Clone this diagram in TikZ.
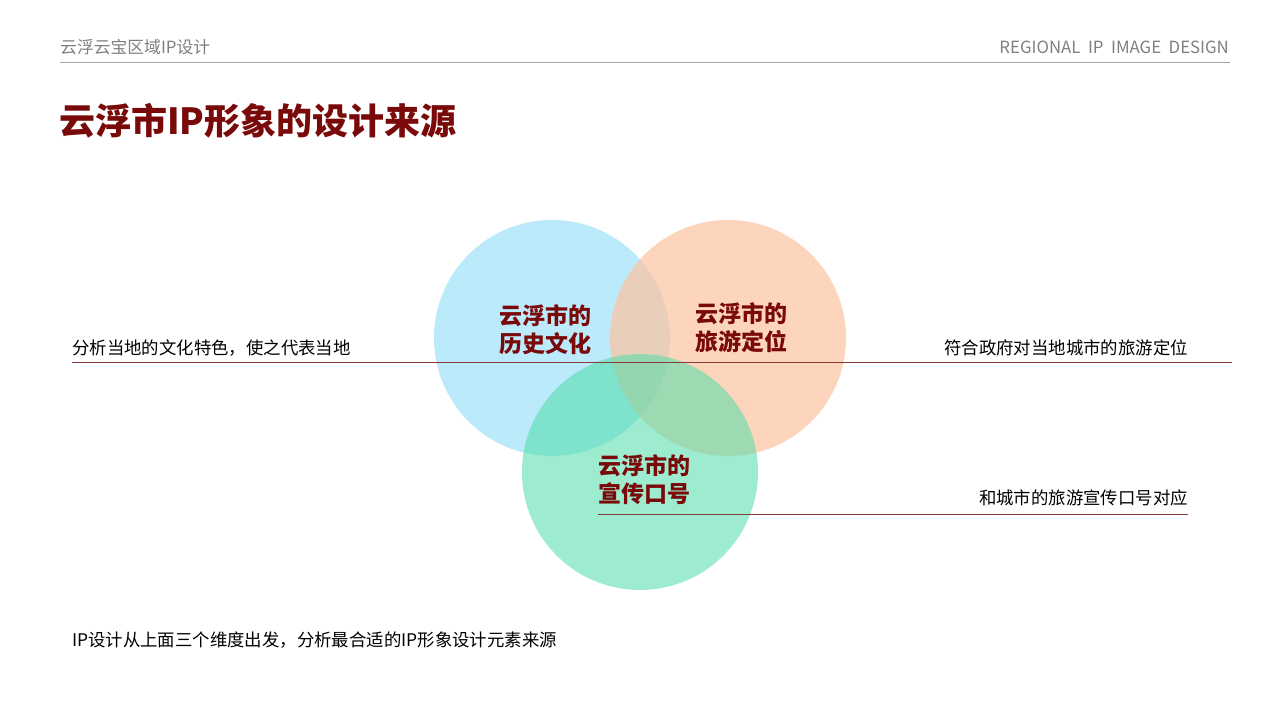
\documentclass[tikz,border=0pt]{standalone}
\usepackage{fontspec}
\setmainfont{Noto Sans CJK SC}
\definecolor{dred}{HTML}{7A0A0A}
\definecolor{lred}{HTML}{8B3A3A}
\definecolor{cblue}{HTML}{8EDDF8}
\definecolor{corange}{HTML}{FDC4A0}
\definecolor{cgreen}{HTML}{4FDDA8}
\begin{document}
\begin{tikzpicture}[x=1pt,y=-1pt,
  lab/.style={font=\fontsize{23}{28}\selectfont\bfseries,text=dred,align=center,inner sep=0},
  note/.style={font=\fontsize{17.4}{20}\selectfont,inner sep=0}]
\useasboundingbox[fill=white] (0,0) rectangle (1280,720);
\node[anchor=west,text=gray,font=\fontsize{16.8}{19}\selectfont,inner sep=0] (h1) at (60,47) {云浮云宝区域IP设计};
\node[anchor=east,text=gray,font=\fontsize{16.8}{19}\selectfont,inner sep=0] (h2) at (1229,47) {REGIONAL\ \ IP\ \ IMAGE\ \ DESIGN};
\draw[gray!70,line width=0.8pt] (60,62) -- (1230,62);
\node[anchor=west,text=dred,font=\fontsize{36}{40}\selectfont\bfseries,inner sep=0] (t) at (59,121) {云浮市IP形象的设计来源};
\fill[cblue,opacity=0.6] (552,338) circle (118);
\fill[corange,opacity=0.7] (728,338) circle (118);
\fill[cgreen,opacity=0.55] (640,472) circle (118);
\draw[lred,line width=0.8pt] (72,362) -- (1232,362);
\draw[lred,line width=0.8pt] (598,514) -- (1188,514);
\node[lab] (a) at (545,330) {云浮市的\\历史文化};
\node[lab] (b) at (741,328) {云浮市的\\旅游定位};
\node[lab] (c) at (644,480) {云浮市的\\宣传口号};
\node[note,anchor=west] (n1) at (72,348) {分析当地的文化特色，使之代表当地};
\node[note,anchor=east] (n2) at (1188,348) {符合政府对当地城市的旅游定位};
\node[note,anchor=east] (n3) at (1188,498) {和城市的旅游宣传口号对应};
\node[note,anchor=west] (n4) at (72,640) {IP设计从上面三个维度出发，分析最合适的IP形象设计元素来源};
\end{tikzpicture}
\end{document}
